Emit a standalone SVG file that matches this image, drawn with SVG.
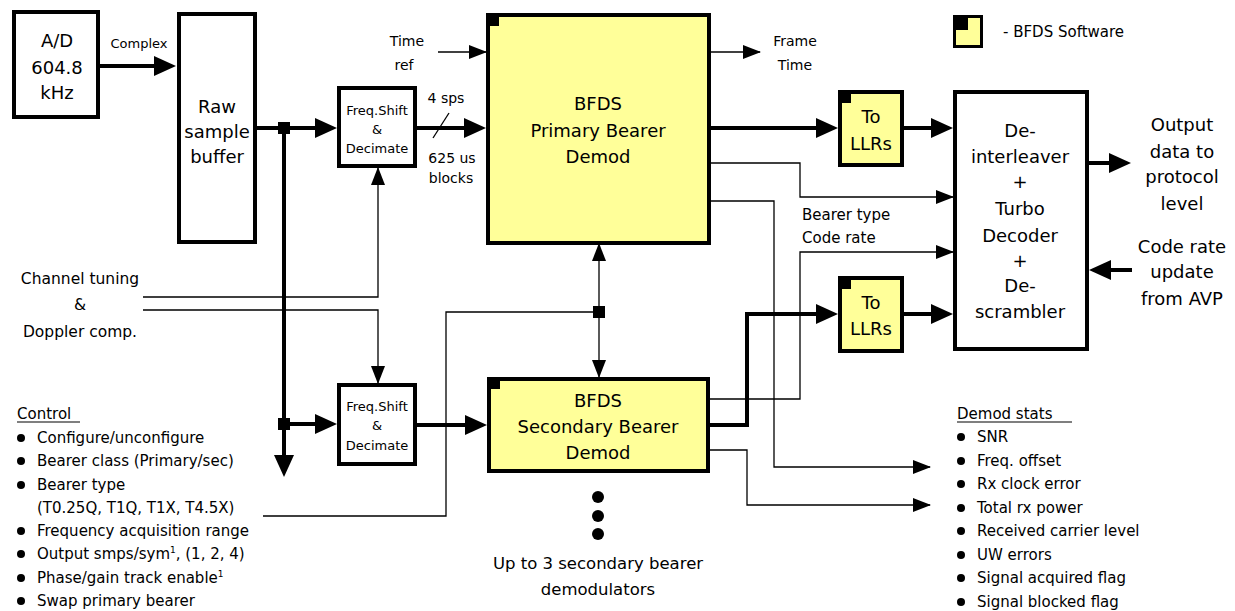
<svg xmlns="http://www.w3.org/2000/svg" width="1235" height="611" viewBox="0 0 1235 611">
<defs>
<style>
text{font-family:"DejaVu Sans","Liberation Sans",sans-serif;fill:#000}
.box{fill:#fff;stroke:#000;stroke-width:4}
.sw{fill:#FFFF99;stroke:#000;stroke-width:4}
.lbl{font-size:18px;text-anchor:middle}
.sm{font-size:13px;text-anchor:middle}
.mid{font-size:14px;text-anchor:middle}
.lst{font-size:15px}
.thick{fill:none;stroke:#000;stroke-width:4;marker-end:url(#ah)}
.thickn{fill:none;stroke:#000;stroke-width:4}
.thin{fill:none;stroke:#000;stroke-width:1.3;marker-end:url(#at)}
.thinn{fill:none;stroke:#000;stroke-width:1.3}
</style>
<marker id="ah" markerUnits="userSpaceOnUse" markerWidth="22" markerHeight="20" refX="12" refY="10" viewBox="0 0 22 20" orient="auto-start-reverse"><path d="M0,0 L22,10 L0,20 z" fill="#000"/></marker>
<marker id="at" markerUnits="userSpaceOnUse" markerWidth="18" markerHeight="14" refX="17" refY="7" viewBox="0 0 18 14" orient="auto-start-reverse"><path d="M0,0 L18,7 L0,14 z" fill="#000"/></marker>
</defs>
<rect width="1235" height="611" fill="#fff"/>

<g id="connectors">
<path class="thick" d="M100,66 H166"/>
<path class="thick" d="M257,128 H327"/>
<path class="thick" d="M284,128 V467"/>
<path class="thick" d="M284,424 H327"/>
<path class="thick" d="M417,128 H476"/>
<path class="thick" d="M417,425 H477"/>
<path class="thick" d="M711,128 H828"/>
<path class="thick" d="M710,425 H747 V314 H828"/>
<path class="thick" d="M903,128 H943"/>
<path class="thick" d="M904,314 H943"/>
<path class="thick" d="M1089,163 H1121"/>
<path class="thick" d="M1132,270 H1099"/>
<line x1="433" y1="138" x2="449" y2="113" stroke="#000" stroke-width="1.3"/>
<path class="thin" d="M438,52 H486"/>
<path class="thin" d="M711,52 H760"/>
<path class="thin" d="M711,163 H800 V197 H953"/>
<path class="thin" d="M711,201 H774 V467 H930"/>
<path class="thin" d="M710,450 H747 V505 H930"/>
<path class="thin" d="M710,399 H800 V252 H953"/>
<path class="thin" d="M143,297 H378 V168"/>
<path class="thin" d="M143,310 H378 V383"/>
<path class="thinn" d="M263,516 H446 V312 H599"/>
<path class="thin" d="M599,244 V377" marker-start="url(#at)"/>
<rect x="278" y="122" width="12" height="12" fill="#000"/>
<rect x="278" y="418" width="12" height="12" fill="#000"/>
<rect x="593" y="306" width="12" height="12" fill="#000"/>
</g>

<g id="ad">
<rect class="box" x="14" y="12" width="84" height="105"/>
<text class="lbl" x="57" y="47">A/D</text>
<text class="lbl" x="57" y="74">604.8</text>
<text class="lbl" x="57" y="99">kHz</text>
</g>
<text class="sm" x="139" y="48">Complex</text>

<g id="rawbuf">
<rect class="box" x="179" y="14" width="76" height="228"/>
<text class="lbl" x="217" y="113">Raw</text>
<text class="lbl" x="217" y="138">sample</text>
<text class="lbl" x="217" y="163">buffer</text>
</g>

<g id="freq1">
<rect class="box" x="339" y="88" width="76" height="78"/>
<text class="sm" x="377" y="115">Freq.Shift</text>
<text class="sm" x="377" y="134">&amp;</text>
<text class="sm" x="377" y="153">Decimate</text>
</g>

<g id="freq2">
<rect class="box" x="339" y="385" width="76" height="79"/>
<text class="sm" x="377" y="411">Freq.Shift</text>
<text class="sm" x="377" y="430">&amp;</text>
<text class="sm" x="377" y="450">Decimate</text>
</g>

<text class="mid" x="446" y="103">4 sps</text>
<text class="mid" x="452" y="163">625 us</text>
<text class="mid" x="451" y="183">blocks</text>
<text class="mid" x="407" y="46">Time</text>
<text class="mid" x="404" y="70">ref</text>
<text class="mid" x="795" y="46">Frame</text>
<text class="mid" x="795" y="70">Time</text>

<g id="primary">
<rect class="sw" x="488" y="15" width="221" height="228"/>
<rect x="486" y="13" width="13" height="13" fill="#000"/>
<text class="lbl" x="598" y="110">BFDS</text>
<text class="lbl" x="598" y="137">Primary Bearer</text>
<text class="lbl" x="598" y="163">Demod</text>
</g>

<g id="secondary">
<rect class="sw" x="489" y="379" width="219" height="92"/>
<rect x="487" y="377" width="13" height="12" fill="#000"/>
<text class="lbl" x="598" y="407">BFDS</text>
<text class="lbl" x="598" y="433">Secondary Bearer</text>
<text class="lbl" x="598" y="459">Demod</text>
</g>

<g id="llrs1">
<rect class="sw" x="840" y="92" width="62" height="73"/>
<rect x="838" y="90" width="13" height="13" fill="#000"/>
<text class="lbl" x="871" y="123">To</text>
<text class="lbl" x="871" y="150">LLRs</text>
</g>

<g id="llrs2">
<rect class="sw" x="840" y="278" width="62" height="73"/>
<rect x="838" y="276" width="13" height="13" fill="#000"/>
<text class="lbl" x="871" y="309">To</text>
<text class="lbl" x="871" y="335">LLRs</text>
</g>

<g id="decoder">
<rect class="box" x="955" y="92" width="132" height="257"/>
<text class="lbl" x="1020" y="137">De-</text>
<text class="lbl" x="1020" y="163">interleaver</text>
<text class="lbl" x="1020" y="188">+</text>
<text class="lbl" x="1020" y="215">Turbo</text>
<text class="lbl" x="1020" y="242">Decoder</text>
<text class="lbl" x="1020" y="267">+</text>
<text class="lbl" x="1020" y="292">De-</text>
<text class="lbl" x="1020" y="318">scrambler</text>
</g>

<g id="output">
<text class="lbl" x="1182" y="131">Output</text>
<text class="lbl" x="1182" y="158">data to</text>
<text class="lbl" x="1182" y="183">protocol</text>
<text class="lbl" x="1182" y="210">level</text>
</g>
<g id="coderate">
<text class="lbl" x="1182" y="253">Code rate</text>
<text class="lbl" x="1182" y="278">update</text>
<text class="lbl" x="1182" y="305">from AVP</text>
</g>

<g id="legend">
<rect x="954.5" y="16.5" width="27" height="30" fill="#FFFF99" stroke="#000" stroke-width="3"/>
<rect x="953" y="15" width="15" height="15" fill="#000"/>
<text x="1003" y="37" style="font-size:15px">- BFDS Software</text>
</g>

<text x="802" y="220" style="font-size:15px">Bearer type</text>
<text x="802" y="243" style="font-size:15px">Code rate</text>

<g id="channel">
<text x="80" y="284" style="font-size:15.5px;text-anchor:middle">Channel tuning</text>
<text x="80" y="310" style="font-size:15.5px;text-anchor:middle">&amp;</text>
<text x="80" y="337" style="font-size:15.5px;text-anchor:middle">Doppler comp.</text>
</g>

<g id="control">
<text class="lst" x="17" y="419">Control</text>
<line x1="17" y1="422" x2="80" y2="422" stroke="#000" stroke-width="1.2"/>
<g fill="#000">
<circle cx="21" cy="438" r="4"/>
<circle cx="21" cy="461" r="4"/>
<circle cx="21" cy="485" r="4"/>
<circle cx="21" cy="531" r="4"/>
<circle cx="21" cy="554" r="4"/>
<circle cx="21" cy="578" r="4"/>
<circle cx="21" cy="601" r="4"/>
</g>
<text class="lst" x="37" y="443">Configure/unconfigure</text>
<text class="lst" x="37" y="466">Bearer class (Primary/sec)</text>
<text class="lst" x="37" y="490">Bearer type</text>
<text class="lst" x="37" y="513">(T0.25Q, T1Q, T1X, T4.5X)</text>
<text class="lst" x="37" y="536">Frequency acquisition range</text>
<text class="lst" x="37" y="559">Output smps/sym<tspan style="font-size:9px" dy="-6">1</tspan><tspan dy="6">, (1, 2, 4)</tspan></text>
<text class="lst" x="37" y="583">Phase/gain track enable<tspan style="font-size:9px" dy="-6">1</tspan></text>
<text class="lst" x="37" y="606">Swap primary bearer</text>
</g>

<g id="more">
<circle cx="598" cy="497" r="6" fill="#000"/>
<circle cx="598" cy="516" r="6" fill="#000"/>
<circle cx="598" cy="534" r="6" fill="#000"/>
<text x="598" y="569" style="font-size:16.5px;text-anchor:middle">Up to 3 secondary bearer</text>
<text x="598" y="595" style="font-size:16.5px;text-anchor:middle">demodulators</text>
</g>

<g id="stats">
<text class="lst" x="957" y="419">Demod stats</text>
<line x1="957" y1="422" x2="1072" y2="422" stroke="#000" stroke-width="1.2"/>
<g fill="#000">
<circle cx="961" cy="437" r="4"/>
<circle cx="961" cy="461" r="4"/>
<circle cx="961" cy="484" r="4"/>
<circle cx="961" cy="508" r="4"/>
<circle cx="961" cy="531" r="4"/>
<circle cx="961" cy="555" r="4"/>
<circle cx="961" cy="578" r="4"/>
<circle cx="961" cy="602" r="4"/>
</g>
<text class="lst" x="977" y="442">SNR</text>
<text class="lst" x="977" y="466">Freq. offset</text>
<text class="lst" x="977" y="489">Rx clock error</text>
<text class="lst" x="977" y="513">Total rx power</text>
<text class="lst" x="977" y="536">Received carrier level</text>
<text class="lst" x="977" y="560">UW errors</text>
<text class="lst" x="977" y="583">Signal acquired flag</text>
<text class="lst" x="977" y="607">Signal blocked flag</text>
</g>
</svg>
